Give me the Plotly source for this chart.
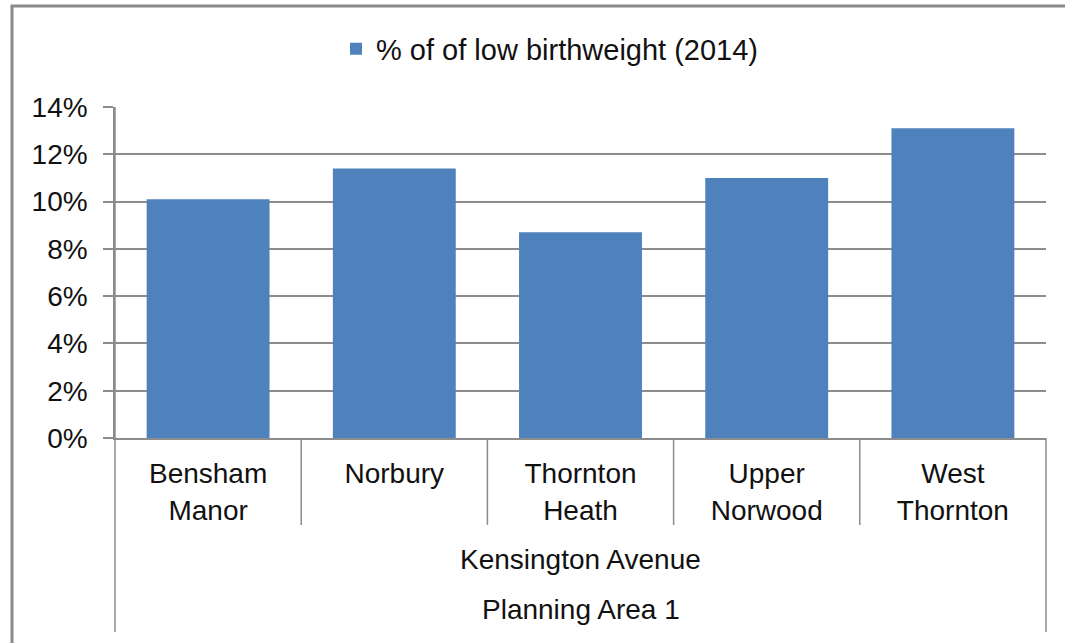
import plotly.graph_objects as go

categories = ["Bensham<br>Manor", "Norbury", "Thornton<br>Heath", "Upper<br>Norwood", "West<br>Thornton"]
values = [0.101, 0.114, 0.087, 0.110, 0.131]
series_name = "% of of low birthweight (2014)"
level2_label = "Kensington Avenue"
level3_label = "Planning Area 1"
y_ticks = [0, 0.02, 0.04, 0.06, 0.08, 0.10, 0.12, 0.14]

BAR = "#4F81BD"
GRID = "#8C8C8C"
TXT = "#111111"
FONT = "Liberation Sans, Arial, sans-serif"
FS = 28

fig = go.Figure()
fig.add_trace(go.Bar(x=list(range(len(categories))), y=values, name=series_name,
                     marker=dict(color=BAR, line=dict(width=0)), showlegend=True))

W, H = 1065, 643
L, R, T, B = 115, 19, 107, 205
pw, ph = W - L - R, H - T - B

def px_y(py):
    return (H - B - py) / ph

def px_x(px):
    return (px - L) / pw

shapes = []
# outer frame
shapes.append(dict(type="rect", xref="paper", yref="paper",
                   x0=px_x(12), x1=px_x(1075), y0=px_y(660), y1=px_y(6),
                   line=dict(color="#8A8A8A", width=3), layer="below"))
# left and right extended axis lines
shapes.append(dict(type="line", xref="paper", yref="paper", x0=0, x1=0,
                   y0=px_y(632), y1=1, line=dict(color=GRID, width=1.5)))
shapes.append(dict(type="line", xref="paper", yref="paper", x0=1, x1=1,
                   y0=px_y(632), y1=0, line=dict(color=GRID, width=1.5)))
# category dividers
for i in range(len(categories) - 1):
    shapes.append(dict(type="line", xref="x", yref="paper", x0=i + 0.5, x1=i + 0.5,
                       y0=px_y(525), y1=0, line=dict(color=GRID, width=1.5)))

annotations = [
    dict(text=level2_label, xref="paper", yref="paper", x=0.5, y=px_y(559),
         showarrow=False, font=dict(family=FONT, size=FS, color=TXT),
         xanchor="center", yanchor="middle"),
    dict(text=level3_label, xref="paper", yref="paper", x=0.5, y=px_y(609),
         showarrow=False, font=dict(family=FONT, size=FS, color=TXT),
         xanchor="center", yanchor="middle"),
]

fig.update_layout(
    width=W, height=H,
    margin=dict(l=L, r=R, t=T, b=B, autoexpand=False),
    paper_bgcolor="white", plot_bgcolor="white",
    font=dict(family=FONT, size=FS, color=TXT),
    bargap=0.34,
    showlegend=True,
    legend=dict(orientation="h", x=px_x(550), xanchor="center", y=px_y(49), yanchor="middle",
                font=dict(family=FONT, size=29, color=TXT),
                bgcolor="rgba(0,0,0,0)", itemwidth=30),
    shapes=shapes,
    annotations=annotations,
    xaxis=dict(tickmode="array", tickvals=list(range(len(categories))), ticktext=categories,
               range=[-0.5, len(categories) - 0.5], showgrid=False, zeroline=False,
               showline=True, linecolor=GRID, linewidth=1.5, ticks="",
               tickfont=dict(family=FONT, size=FS, color=TXT), ticklabelstandoff=10),
    yaxis=dict(range=[0, 0.14], tickmode="array", tickvals=y_ticks, tickformat=".0%",
               showgrid=True, gridcolor=GRID, gridwidth=1.5, zeroline=False,
               showline=True, linecolor=GRID, linewidth=1.5,
               ticks="outside", ticklen=10, tickcolor=GRID, tickwidth=1.5,
               tickfont=dict(family=FONT, size=FS, color=TXT), ticklabelstandoff=10),
)

fig.write_html("out.html", config={"displayModeBar": False},
               post_script="document.body.style.margin='0';")
